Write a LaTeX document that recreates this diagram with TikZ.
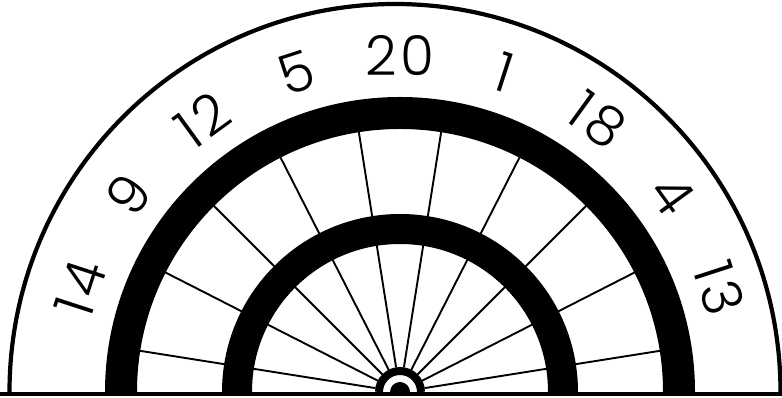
\documentclass[tikz,border=0pt]{standalone}
\usepackage{fontspec}
\setmainfont{Poppins}[UprightFont=* Light, LetterSpace=8]
\tikzset{
  spokeline/.style={line width=1.9pt},
  ringband/.style={line width=#1},
  num/.style={inner sep=0pt, font=\fontsize{55}{55}\selectfont}
}
\begin{document}
\begin{tikzpicture}[x=1pt,y=1pt]
\useasboundingbox (0,0) rectangle (782,398);
\fill[white] (0,0) rectangle (782,398);
\coordinate (c) at (400,6);
% spokes
\foreach \a in {9,27,45,63,81,99,117,135,153,171}{
  \coordinate (s\a) at ({400+25*cos(\a)},{6+25*sin(\a)});
  \coordinate (e\a) at ({400+264*cos(\a)},{6+264*sin(\a)});
  \draw[spokeline] (s\a) -- (e\a);
}
% outer thin arc
\coordinate (oa) at (9.5,6);
\draw[line width=4.2pt] (oa) arc[start angle=180,end angle=0,x radius=385.5,y radius=388];
% thick rings
\coordinate (r1) at (121,6);
\draw[ringband=32pt] (r1) arc[start angle=180,end angle=0,radius=279];
\coordinate (r2) at (237,6);
\draw[ringband=30pt] (r2) arc[start angle=180,end angle=0,radius=163];
% bull
\coordinate (b1) at (379,6);
\draw[ringband=8pt] (b1) arc[start angle=180,end angle=0,radius=21];
\fill (c) ++(-10,0) arc[start angle=180,end angle=0,radius=10] -- cycle;
% bottom line
\fill (0,1.5) rectangle (782,6.3);
% numbers
\foreach \t/\a in {14/162,9/144,12/126,5/108,20/90,1/72,18/54,4/36,13/18}{
  \node[num, rotate=\a-90] (n\t) at ({400+336*cos(\a)},{6+336*sin(\a)}) {\t};
}
\end{tikzpicture}
\end{document}
